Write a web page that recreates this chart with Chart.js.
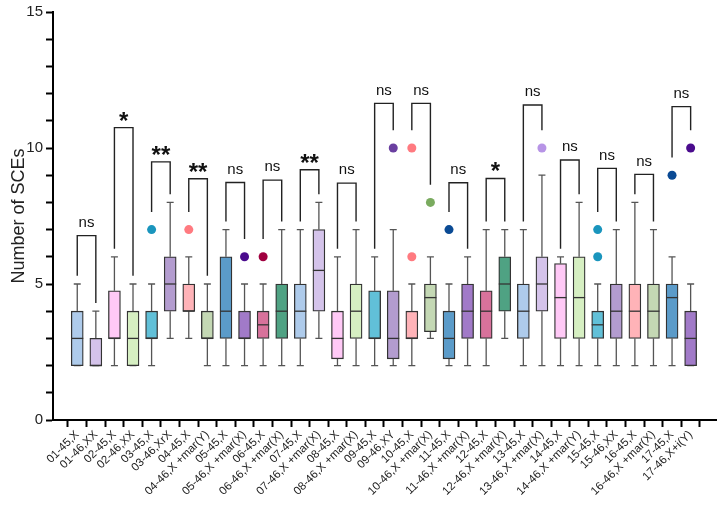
<!DOCTYPE html>
<html>
<head>
<meta charset="utf-8">
<script src="https://cdn.jsdelivr.net/npm/chart.js@4.4.1/dist/chart.umd.min.js"></script>
<style>
  html, body { margin: 0; padding: 0; background: #fff; }
  #wrap { width: 721px; height: 508px; }
</style>
</head>
<body>
<div id="wrap"><canvas id="chart" width="721" height="508"></canvas></div>
<script>
// Groups on the x axis
const categories = [
  "01-45,X", "01-46,XX", "02-45,X", "02-46,XX", "03-45,X", "03-46,XrX",
  "04-45,X", "04-46,X +mar(Y)", "05-45,X", "05-46,X +mar(X)", "06-45,X", "06-46,X +mar(X)",
  "07-45,X", "07-46,X +mar(X)", "08-45,X", "08-46,X +mar(X)", "09-45,X", "09-46,XY",
  "10-45,X", "10-46,X +mar(X)", "11-45,X", "11-46,X +mar(X)", "12-45,X", "12-46,X +mar(X)",
  "13-45,X", "13-46,X +mar(X)", "14-45,X", "14-46,X +mar(Y)", "15-45,X", "15-46,XX",
  "16-45,X", "16-46,X +mar(X)", "17-45,X", "17-46,X+i(Y)"
];

// Box plot summaries (number of SCEs)
const mins    = [2, 2, 2, 2, 2, 3, 3, 2, 2, 2, 2, 2, 2, 3, 2, 2, 2, 2, 2, 3, 2, 2, 2, 3, 2, 2, 2, 2, 2, 2, 2, 2, 2, 2];
const q1s     = [2, 2, 3, 2, 3, 4, 4, 3, 3, 3, 3, 3, 3, 4, 2.25, 3, 3, 2.25, 3, 3.25, 2.25, 3, 3, 4, 3, 4, 3, 3, 3, 3, 3, 3, 3, 2];
const medians = [3, 2, 3, 3, 3, 5, 4, 3, 4, 3, 3.5, 4, 4, 5.5, 3, 4, 3, 3, 3, 4.5, 3, 4, 4, 5, 4, 5, 4.5, 4.5, 3.5, 4, 4, 4, 4.5, 3];
const q3s     = [4, 3, 4.75, 4, 4, 6, 5, 4, 6, 4, 4, 5, 5, 7, 4, 5, 4.75, 4.75, 4, 5, 4, 5, 4.75, 6, 5, 6, 5.75, 6, 4, 5, 5, 5, 5, 4];
const maxs    = [5, 4, 6, 5, 5, 8, 6, 5, 7, 5, 5, 7, 7, 8, 6, 7, 6, 7, 5, 6, 5, 6, 7, 7, 7, 9, 6, 8, 5, 7, 8, 7, 6, 5];

// Outliers: group index and value
const outlierGroup = [4, 6, 9, 10, 17, 18, 18, 19, 20, 25, 28, 28, 32, 33];
const outlierValue = [7, 7, 6, 6, 10, 10, 6, 8, 7, 10, 7, 6, 9, 10];

// Significance brackets, one per pair of groups
const bracketTops = [6.78, 10.75, 9.49, 8.87, 8.73, 8.82, 9.2, 8.71, 11.64, 11.64, 8.72, 8.88, 11.58, 9.56, 9.25, 9.03, 11.52];
const sigLabels = ["ns", "*", "**", "**", "ns", "ns", "**", "ns", "ns", "ns", "ns", "*", "ns", "ns", "ns", "ns", "ns"];

// 12-colour cycle
const boxColors = ["#aecbeb", "#d4c3ea", "#ffc9f6", "#d6efc2", "#61c0d8", "#b39ccf",
                   "#ffb3b8", "#c4d8b4", "#5b9bc9", "#a17ac8", "#d8729b", "#4fa283"];
const dotColors = ["#6a95c8", "#b794e6", "#ee8fe0", "#9fd07a", "#1a95bd", "#6a3fa0",
                   "#ff7a80", "#7aab5f", "#0a4a94", "#4a0b8d", "#a0003f", "#1f7a58"];

const FONT = "Arial, 'Liberation Sans', sans-serif";

const boxData = categories.map((c, i) => ({ x: i, y: [q1s[i], q3s[i]] }));
const dotData = outlierGroup.map((g, k) => ({ x: g, y: outlierValue[k] }));

function groupTop(i) {
  let top = maxs[i], gap = 0.3;
  outlierGroup.forEach((g, k) => {
    if (g === i && outlierValue[k] > top) { top = outlierValue[k]; gap = 0.65; }
  });
  return top + gap;
}

const boxPlugin = {
  id: "boxParts",
  beforeDatasetsDraw(chart) {
    const { ctx, scales: { x, y } } = chart;
    ctx.save();
    ctx.strokeStyle = "#555";
    ctx.lineWidth = 1.3;
    categories.forEach((c, i) => {
      const px = x.getPixelForValue(i);
      ctx.beginPath();
      ctx.moveTo(px, y.getPixelForValue(mins[i]));
      ctx.lineTo(px, y.getPixelForValue(q1s[i]));
      ctx.moveTo(px, y.getPixelForValue(q3s[i]));
      ctx.lineTo(px, y.getPixelForValue(maxs[i]));
      [mins[i], maxs[i]].forEach(v => {
        const py = y.getPixelForValue(v);
        ctx.moveTo(px - 3.5, py);
        ctx.lineTo(px + 3.5, py);
      });
      ctx.stroke();
    });
    ctx.restore();
  },
  afterDatasetsDraw(chart) {
    const { ctx, scales: { x, y } } = chart;
    ctx.save();
    // medians
    ctx.strokeStyle = "#333";
    ctx.lineWidth = 1.3;
    categories.forEach((c, i) => {
      const px = x.getPixelForValue(i);
      const py = y.getPixelForValue(medians[i]);
      ctx.beginPath();
      ctx.moveTo(px - 6, py);
      ctx.lineTo(px + 6, py);
      ctx.stroke();
    });
    // brackets
    ctx.strokeStyle = "#222";
    ctx.lineWidth = 1.4;
    ctx.fillStyle = "#111";
    ctx.textAlign = "center";
    bracketTops.forEach((t, p) => {
      const a = 2 * p, b = 2 * p + 1;
      const xl = x.getPixelForValue(a), xr = x.getPixelForValue(b);
      const yt = y.getPixelForValue(t);
      ctx.beginPath();
      ctx.moveTo(xl, y.getPixelForValue(groupTop(a)));
      ctx.lineTo(xl, yt);
      ctx.lineTo(xr, yt);
      ctx.lineTo(xr, y.getPixelForValue(groupTop(b)));
      ctx.stroke();
      const cx = (xl + xr) / 2;
      if (sigLabels[p] === "ns") {
        ctx.font = "15px " + FONT;
        ctx.textBaseline = "middle";
        ctx.fillText("ns", cx, yt - 13);
      } else {
        ctx.font = "bold 24px " + FONT;
        ctx.textBaseline = "alphabetic";
        ctx.fillText(sigLabels[p], cx, yt + 1);
      }
    });
    ctx.restore();
  }
};

new Chart(document.getElementById("chart"), {
  type: "bar",
  data: {
    datasets: [
      {
        type: "bar",
        data: boxData,
        backgroundColor: categories.map((c, i) => boxColors[i % 12]),
        borderColor: "#333",
        borderWidth: 1.3,
        borderSkipped: false,
        barThickness: 12,
        grouped: false
      },
      {
        type: "scatter",
        data: dotData,
        pointRadius: 4.5,
        pointBorderWidth: 0,
        pointBackgroundColor: outlierGroup.map(g => dotColors[g % 12]),
        showLine: false
      }
    ]
  },
  options: {
    responsive: false,
    animation: false,
    devicePixelRatio: 1,
    layout: { padding: { top: 12, right: 5, left: 0, bottom: 0 } },
    plugins: { legend: { display: false }, tooltip: { enabled: false } },
    scales: {
      x: {
        type: "linear",
        min: -0.78,
        max: 33.84,
        afterFit(scale) { scale.height = 88; },
        border: { color: "#000", width: 2 },
        grid: { drawOnChartArea: false, drawTicks: true, tickLength: 7, tickColor: "#000", tickWidth: 2 },
        ticks: {
          stepSize: 1,
          includeBounds: false,
          autoSkip: false,
          maxTicksLimit: 100,
          maxRotation: 45,
          minRotation: 45,
          padding: 1,
          color: "#222",
          font: { family: FONT, size: 11.5 },
          callback: v => Number.isInteger(v) ? categories[v] : ""
        }
      },
      y: {
        min: 0,
        max: 15,
        afterFit(scale) { scale.width = 53; },
        border: { color: "#000", width: 2 },
        grid: { drawOnChartArea: false, drawTicks: true, tickLength: 7, tickColor: "#000", tickWidth: 2 },
        ticks: {
          stepSize: 1,
          padding: 3,
          color: "#222",
          font: { family: FONT, size: 15 },
          callback: v => v % 5 === 0 ? v : ""
        },
        title: {
          display: true,
          text: "Number of SCEs",
          color: "#222",
          font: { family: FONT, size: 18 },
          padding: { top: 8, bottom: 0 }
        }
      }
    }
  },
  plugins: [boxPlugin]
});
</script>
</body>
</html>
